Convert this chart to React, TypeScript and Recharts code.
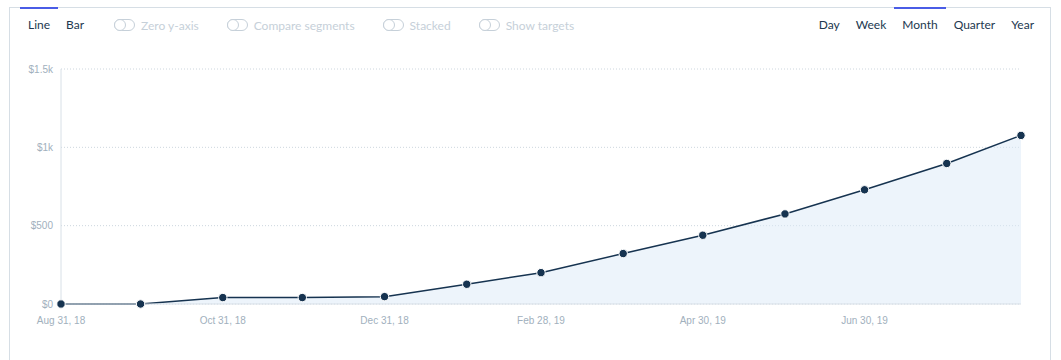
import React from 'react'
import {
  ComposedChart, Area, XAxis, YAxis, CartesianGrid,
} from 'recharts'

// month-end dates, last one is the partial current month
const DATES = [
  '2018-08-31', '2018-09-30', '2018-10-31', '2018-11-30', '2018-12-31',
  '2019-01-31', '2019-02-28', '2019-03-31', '2019-04-30', '2019-05-31',
  '2019-06-30', '2019-07-31', '2019-08-28',
]
const VALUES = [0, 0, 41, 41, 47, 126, 200, 322, 439, 575, 729, 897, 1076]

const X_TICKS = ['2018-08-31', '2018-10-31', '2018-12-31', '2019-02-28', '2019-04-30', '2019-06-30']
const Y_TICKS = [0, 500, 1000, 1500]

const LEFT_TABS = ['Line', 'Bar']
const TOGGLES = ['Zero y-axis', 'Compare segments', 'Stacked', 'Show targets']
const RIGHT_TABS = ['Day', 'Week', 'Month', 'Quarter', 'Year']

const MONTHS = ['Jan', 'Feb', 'Mar', 'Apr', 'May', 'Jun', 'Jul', 'Aug', 'Sep', 'Oct', 'Nov', 'Dec']

const toTime = (d: string) => {
  const [y, m, day] = d.split('-').map(Number)
  return Date.UTC(y, m - 1, day)
}

const fmtDate = (t: number) => {
  const d = new Date(t)
  return `${MONTHS[d.getUTCMonth()]} ${d.getUTCDate()}, ${String(d.getUTCFullYear()).slice(2)}`
}

const fmtMoney = (v: number) => (v >= 1000 ? `$${v / 1000}k` : `$${v}`)

const data = DATES.map((d, i) => ({ t: toTime(d), value: VALUES[i] }))

const NAVY = '#163350'
const TAB_TEXT = '#22384f'
const MUTED = '#c6d0d9'
const ACCENT = '#4a5ce6'
const UI_FONT = 'Lato, "Noto Sans", sans-serif'

function Tab({ label, active }: { label: string; active?: boolean }) {
  return (
    <div style={{ position: 'relative', padding: '0 8px', color: TAB_TEXT, lineHeight: '16px' }}>
      {active && (
        <div style={{ position: 'absolute', left: 0, right: 0, top: -10, height: 2, background: ACCENT }} />
      )}
      {label}
    </div>
  )
}

function Toggle({ label, first }: { label: string; first?: boolean }) {
  return (
    <div style={{ display: 'flex', alignItems: 'center', marginLeft: first ? 22 : 28, color: MUTED }}>
      <div style={{
        position: 'relative', width: 21, height: 12, boxSizing: 'border-box',
        border: `1px solid ${MUTED}`, borderRadius: 6, marginRight: 6,
      }}>
        <div style={{
          position: 'absolute', left: -1, top: -1, width: 12, height: 12, boxSizing: 'border-box',
          border: `1px solid ${MUTED}`, borderRadius: 6, background: '#fff',
        }} />
      </div>
      {label}
    </div>
  )
}

export default function App() {
  return (
    <div style={{ position: 'absolute', left: 0, top: 0, width: 1061, height: 360, overflow: 'hidden', background: '#fff' }}>
      <div style={{
        position: 'absolute', left: 9, top: 7, width: 1042, height: 360, boxSizing: 'border-box',
        border: '1px solid #d6dee5',
      }} />

      <ComposedChart
        width={1061}
        height={360}
        data={data}
        margin={{ top: 69, right: 40, bottom: 26, left: 0 }}
        style={{ position: 'absolute', left: 0, top: 0 }}
      >
        <CartesianGrid vertical={false} stroke="#cdd6de" strokeDasharray="1 2" />
        <XAxis
          dataKey="t"
          type="number"
          scale="time"
          domain={['dataMin', 'dataMax']}
          ticks={X_TICKS.map(toTime)}
          tickFormatter={fmtDate}
          height={30}
          tickLine={false}
          tickMargin={7}
          axisLine={{ stroke: '#d8e0e7' }}
          tick={{ fontSize: 10, fill: '#a1b0bd', fontFamily: '"Liberation Sans", Arial, sans-serif' }}
        />
        <YAxis
          domain={[0, 1500]}
          ticks={Y_TICKS}
          tickFormatter={fmtMoney}
          width={61}
          tickLine={false}
          axisLine={{ stroke: '#d8e0e7' }}
          tick={{ fontSize: 10, fill: '#a1b0bd', fontFamily: '"Liberation Sans", Arial, sans-serif' }}
        />
        <Area
          type="linear"
          dataKey="value"
          stroke={NAVY}
          strokeWidth={1.5}
          fill="#dbe9f7"
          fillOpacity={0.5}
          dot={{ r: 4.2, fill: NAVY, stroke: '#fff', strokeWidth: 1, fillOpacity: 1 }}
          activeDot={false}
          isAnimationActive={false}
        />
      </ComposedChart>

      <div style={{
        position: 'absolute', left: 20, top: 17, display: 'flex', alignItems: 'center',
        fontFamily: UI_FONT, fontSize: 12,
      }}>
        {LEFT_TABS.map((t, i) => <Tab key={t} label={t} active={i === 0} />)}
        {TOGGLES.map((t, i) => <Toggle key={t} label={t} first={i === 0} />)}
      </div>

      <div style={{
        position: 'absolute', right: 19, top: 17, display: 'flex', alignItems: 'center',
        fontFamily: UI_FONT, fontSize: 12,
      }}>
        {RIGHT_TABS.map((t) => <Tab key={t} label={t} active={t === 'Month'} />)}
      </div>
    </div>
  )
}
